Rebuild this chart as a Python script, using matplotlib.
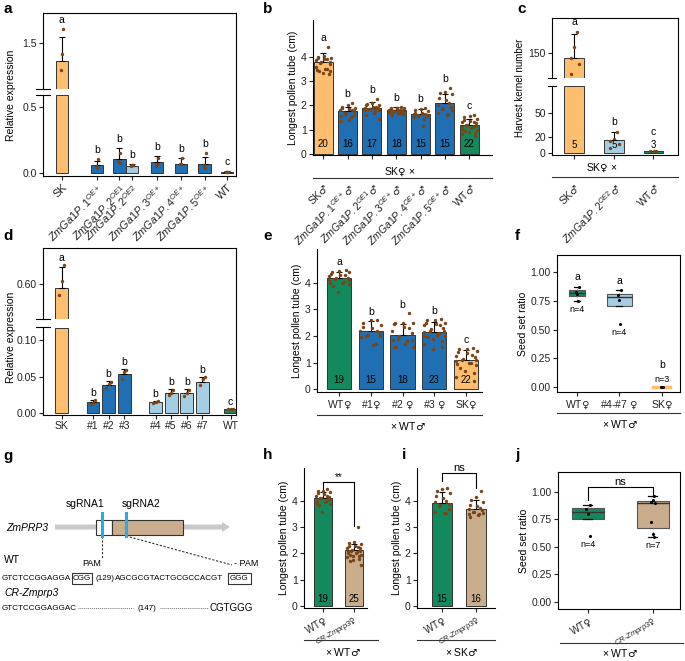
import numpy as np
import matplotlib
matplotlib.use('Agg')
import matplotlib.pyplot as plt
from matplotlib.lines import Line2D
from matplotlib.patches import Rectangle, Polygon

plt.rcParams['font.family'] = ['Liberation Sans', 'DejaVu Sans']
plt.rcParams['mathtext.fontset'] = 'custom'
plt.rcParams['mathtext.rm'] = 'Liberation Sans'
plt.rcParams['mathtext.it'] = 'Liberation Sans:italic'
plt.rcParams['mathtext.sf'] = 'DejaVu Sans'
plt.rcParams['mathtext.fallback'] = 'stixsans'
plt.rcParams['axes.linewidth'] = 0.8

ORANGE = '#fdbf6f'
BLUE = '#1f6fb2'
LBLUE = '#a6cee3'
GREEN = '#138a5e'
TAN = '#c9ad8c'
BROWN = '#7a4516'
EDGE = '#333333'

# gender signs drawn from DejaVu Sans (larger glyphs than Liberation)
FEM = r'$\mathsf{♀}$'
MAL = r'$\mathsf{♂}$'

# ---------------- data ----------------
# a: relative expression
a_labels = ['SK', r'$\mathit{ZmGa1P.1}^{\mathit{OE+}}$', r'$\mathit{ZmGa1P.2}^{\mathit{OE1}}$',
            r'$\mathit{ZmGa1P.2}^{\mathit{OE2}}$', r'$\mathit{ZmGa1P.3}^{\mathit{OE+}}$',
            r'$\mathit{ZmGa1P.4}^{\mathit{OE+}}$', r'$\mathit{ZmGa1P.5}^{\mathit{OE+}}$', 'WT']
a_mean = [1.28, 0.06, 0.105, 0.05, 0.085, 0.07, 0.065, 0.01]
a_err = [0.29, 0.03, 0.085, 0.015, 0.045, 0.04, 0.055, 0.003]
a_pts = [[1.66, 1.37, 1.18], [0.105, 0.04, 0.05], [0.15, 0.075, 0.09], [0.06, 0.06, 0.055],
         [0.11, 0.07, 0.05], [0.11, 0.07, 0.065], [0.15, 0.04, 0.06], [0.01, 0.01, 0.01]]
a_let = ['a', 'b', 'b', 'b', 'b', 'b', 'b', 'c']

# b: longest pollen tube, SK female x
b_labels = ['SK' + MAL, r'$\mathit{ZmGa1P.1}^{\mathit{OE+}}$' + MAL, r'$\mathit{ZmGa1P.2}^{\mathit{OE1}}$' + MAL,
            r'$\mathit{ZmGa1P.3}^{\mathit{OE+}}$' + MAL, r'$\mathit{ZmGa1P.4}^{\mathit{OE+}}$' + MAL,
            r'$\mathit{ZmGa1P.5}^{\mathit{OE+}}$' + MAL, 'WT' + MAL]
b_mean = [3.78, 1.75, 1.90, 1.80, 1.65, 2.10, 1.18]
b_err = [0.38, 0.19, 0.22, 0.12, 0.20, 0.35, 0.25]
b_pts = [
    [4.4, 4.05, 4.0, 3.95, 3.95, 3.9, 3.9, 3.85, 3.8, 3.8, 3.75, 3.7, 3.6, 3.5, 3.5, 3.45, 3.4, 3.4, 3.35, 3.3],
    [2.1, 2.0, 1.95, 1.9, 1.9, 1.85, 1.8, 1.8, 1.75, 1.7, 1.65, 1.6, 1.55, 1.5, 1.4, 1.35],
    [2.25, 2.1, 2.05, 2.0, 2.0, 1.95, 1.95, 1.9, 1.9, 1.85, 1.85, 1.8, 1.8, 1.75, 1.7, 1.6, 1.45],
    [1.95, 1.9, 1.9, 1.88, 1.85, 1.85, 1.82, 1.8, 1.8, 1.78, 1.75, 1.75, 1.72, 1.7, 1.7, 1.68, 1.65, 1.6],
    [1.9, 1.85, 1.8, 1.75, 1.7, 1.7, 1.65, 1.65, 1.6, 1.6, 1.55, 1.55, 1.5, 1.45, 1.15],
    [2.7, 2.55, 2.5, 2.45, 2.3, 2.2, 2.1, 2.0, 1.95, 1.9, 1.85, 1.8, 1.7, 1.65, 1.6],
    [1.6, 1.55, 1.5, 1.45, 1.4, 1.35, 1.3, 1.3, 1.25, 1.2, 1.2, 1.15, 1.1, 1.1, 1.05, 1.0, 1.0, 0.95, 0.9,
     0.85, 0.8, 0.75]]
b_let = ['a', 'b', 'b', 'b', 'b', 'b', 'c']

# c: harvest kernel number
c_labels = ['SK' + MAL, r'$\mathit{ZmGa1P.2}^{\mathit{OE2}}$' + MAL, 'WT' + MAL]
c_mean = [142, 17, 3]
c_err = [38, 9, 0.5]
c_pts = [[184, 160, 142, 132, 117], [26, 18, 15, 11, 7], [3.5, 3.5, 3.5]]
c_let = ['a', 'b', 'c']

# d: relative expression, knock-down lines
d_labels = ['SK', '#1', '#2', '#3', '#4', '#5', '#6', '#7', 'WT']
d_mean = [0.581, 0.015, 0.039, 0.054, 0.015, 0.027, 0.027, 0.043, 0.005]
d_err = [0.09, 0.003, 0.005, 0.007, 0.002, 0.006, 0.006, 0.007, 0.001]
d_pts = [[0.678, 0.61, 0.552], [0.018, 0.014, 0.013], [0.043, 0.040, 0.034], [0.059, 0.056, 0.046],
         [0.017, 0.015, 0.014], [0.032, 0.028, 0.025], [0.032, 0.028, 0.024], [0.050, 0.047, 0.039],
         [0.006, 0.006, 0.006]]
d_let = ['a', 'b', 'b', 'b', 'b', 'b', 'b', 'b', 'c']

# e: longest pollen tube x WT male
e_labels = ['WT' + FEM, '#1' + FEM, '#2 ' + FEM, '#3 ' + FEM, 'SK' + FEM]
e_mean = [4.17, 2.20, 2.05, 2.15, 1.08]
e_err = [0.23, 0.35, 0.42, 0.38, 0.40]
e_pts = [
    [4.5, 4.45, 4.4, 4.4, 4.35, 4.3, 4.3, 4.25, 4.2, 4.2, 4.15, 4.1, 4.1, 4.05, 4.0, 4.0, 3.95, 3.9, 3.65],
    [2.6, 2.6, 2.5, 2.4, 2.35, 2.3, 2.2, 2.2, 2.1, 2.05, 2.0, 2.0, 1.95, 1.7, 1.65],
    [2.85, 2.5, 2.5, 2.5, 2.45, 2.35, 2.3, 2.2, 2.1, 2.0, 1.9, 1.85, 1.85, 1.8, 1.7, 1.6, 1.6, 1.6],
    [2.65, 2.6, 2.6, 2.5, 2.5, 2.45, 2.4, 2.4, 2.3, 2.25, 2.2, 2.2, 2.15, 2.1, 2.05, 2.0, 2.0, 1.95, 1.9,
     1.8, 1.7, 1.6, 1.5],
    [1.55, 1.5, 1.5, 1.45, 1.4, 1.35, 1.3, 1.25, 1.2, 1.15, 1.1, 1.1, 1.05, 1.0, 1.0, 0.95, 0.9, 0.8, 0.7,
     0.6, 0.45, 0.3]]
e_let = ['a', 'b', 'b', 'b', 'c']

# f: seed set ratio
f_labels = ['WT' + FEM, '#4-#7 ' + FEM, 'SK' + FEM]
f_pts = [[0.75, 0.81, 0.83, 0.87], [0.55, 0.76, 0.80, 0.84], [0.0, 0.0, 0.0]]
f_let = ['a', 'a', 'b']

# h, i: longest pollen tube, CR-Zmprp3
hi_labels = ['WT' + FEM, r'$\mathit{CR}$-$\mathit{Zmprp3}$' + FEM]
h_mean = [4.12, 2.12]
h_err = [0.22, 0.25]
h_pts = [
    [4.45, 4.4, 4.4, 4.35, 4.3, 4.25, 4.2, 4.2, 4.15, 4.1, 4.1, 4.05, 4.0, 4.0, 3.95, 3.9, 3.9, 3.85, 3.6],
    [3.0, 2.45, 2.4, 2.35, 2.3, 2.3, 2.25, 2.2, 2.2, 2.15, 2.1, 2.1, 2.1, 2.05, 2.0, 2.0, 1.95, 1.95, 1.9,
     1.9, 1.85, 1.8, 1.75, 1.7, 1.55]]
i_mean = [3.93, 3.70]
i_err = [0.40, 0.35]
i_pts = [
    [4.5, 4.45, 4.4, 4.3, 4.2, 4.1, 4.0, 3.95, 3.9, 3.85, 3.8, 3.7, 3.6, 3.55, 3.55],
    [4.4, 4.15, 4.05, 3.95, 3.85, 3.8, 3.75, 3.7, 3.65, 3.6, 3.6, 3.55, 3.5, 3.5, 3.45, 3.4]]

# j: seed set ratio, CR-Zmprp3
j_pts = [[0.60, 0.80, 0.84, 0.88], [0.59, 0.62, 0.73, 0.90, 0.91, 0.93, 0.96]]

# ---------------- helpers ----------------
W, H = 685, 661
fig = plt.figure(figsize=(W / 100, H / 100), dpi=100)


def px_ax(l, t, r, b):
    return fig.add_axes([l / W, 1 - b / H, (r - l) / W, (b - t) / H])


def ftext(x, y, s, **kw):
    kw.setdefault('fontsize', 7.5)
    return fig.text(x / W, 1 - y / H, s, **kw)


def fline(x0, x1, y):
    fig.add_artist(Line2D([x0 / W, x1 / W], [1 - y / H, 1 - y / H], color=EDGE, lw=0.8))


def jitter(n, w):
    return w * np.sin(np.arange(n) * 2.39996 + 0.7)


def tidy(ax, box=False):
    ax.tick_params(labelsize=7.5, length=3, width=0.8, pad=1.5, colors='#222222')
    if not box:
        ax.spines['top'].set_visible(False)
        ax.spines['right'].set_visible(False)


def broken(frame_box, top_box, bot_box, xlim, top_ylim, bot_ylim):
    fr = px_ax(*frame_box)
    fr.set_xticks([])
    fr.set_yticks([])
    fr.patch.set_alpha(0)
    fr.spines['left'].set_visible(False)
    fr.spines['bottom'].set_visible(False)
    top = px_ax(*top_box)
    bot = px_ax(*bot_box)
    for ax in (top, bot):
        ax.patch.set_alpha(0)
        ax.set_xlim(xlim)
        tidy(ax)
    top.spines['bottom'].set_visible(False)
    top.set_xticks([])
    top.set_ylim(top_ylim)
    bot.set_ylim(bot_ylim)
    top.plot([-0.035, 0.035], [0, 0], transform=top.transAxes, clip_on=False, color='k', lw=0.8)
    bot.plot([-0.035, 0.035], [1, 1], transform=bot.transAxes, clip_on=False, color='k', lw=0.8)
    return top, bot


def draw_bars(axes, xs, means, errs, pts, colors, width, jw):
    xs = np.asarray(xs, float)
    means = np.asarray(means, float)
    for ax in axes:
        lo, hi = ax.get_ylim()
        for x, m, c in zip(xs, means, colors):
            if m <= lo:
                continue
            base = 0 if lo <= 0 else lo + 0.006 * (hi - lo)
            top = min(m, hi - 0.006 * (hi - lo))
            ax.bar(x, top - base, width, bottom=base, color=c, edgecolor=EDGE, lw=0.7, zorder=2)
        ax.errorbar(xs, means, yerr=[np.zeros(len(xs)), errs], fmt='none', ecolor='black',
                    elinewidth=0.8, capsize=2.5, capthick=0.8, zorder=3)
        for x, p in zip(xs, pts):
            ax.scatter(x + jitter(len(p), jw), p, s=6, color=BROWN, lw=0, zorder=4)


def put_letters(axes, xs, tops, labs, off_px, fs=7.5, floor=None):
    for x, t, s in zip(xs, tops, labs):
        if floor is not None:
            t = max(t, floor)
        ax = axes[0] if (len(axes) == 1 or t > axes[0].get_ylim()[0]) else axes[1]
        lo, hi = ax.get_ylim()
        hpx = ax.get_position().height * H
        ax.text(x, t + off_px * (hi - lo) / hpx, s, ha='center', va='bottom', fontsize=fs, zorder=5)


def tops_of(means, errs, pts):
    return [max(max(p), m + e) for m, e, p in zip(means, errs, pts)]


def n_labels(ax, xs, pts, y, fs=7):
    for x, p in zip(xs, pts):
        ax.text(x, y, str(len(p)), ha='center', va='center', fontsize=fs, zorder=5)


def rot_labels(ax, xs, labels, rot, pad, fs=7):
    ax.set_xticks(xs)
    ax.set_xticklabels(labels, rotation=rot, ha='right', va='top', rotation_mode='anchor', fontsize=fs)
    ax.tick_params(axis='x', pad=pad)


# ---------------- panel a ----------------
a_x = [0, 2.8, 4.6, 5.6, 7.6, 9.5, 11.4, 13.2]
a_col = [ORANGE, BLUE, BLUE, LBLUE, BLUE, BLUE, BLUE, GREEN]
ta, ba = broken((43, 13, 236, 176), (43, 13, 236, 89), (43, 95, 236, 176),
                (-1.5, 13.9), (0.95, 1.85), (-0.023, 0.59))
draw_bars((ta, ba), a_x, a_mean, a_err, a_pts, a_col, 1.0, 0.12)
ta.set_yticks([1.5])
ta.set_yticklabels(['1.5'])
ba.set_yticks([0, 0.5])
ba.set_yticklabels(['0.0', '0.5'])
rot_labels(ba, a_x, a_labels, 45, 1.5, fs=7.8)
put_letters((ta, ba), a_x, tops_of(a_mean, a_err, a_pts), a_let, 4)
ftext(11, 95, 'Relative expression', rotation=90, ha='center', va='center')

# ---------------- panel b ----------------
b_x = np.arange(len(b_mean))
b_col = [ORANGE] + [BLUE] * 5 + [GREEN]
axb = px_ax(313, 20, 492, 155)
tidy(axb)
axb.set_xlim(-0.42, 6.93)
axb.set_ylim(-0.05, 5.52)
draw_bars([axb], b_x, b_mean, b_err, b_pts, b_col, 0.78, 0.3)
axb.set_yticks([0, 1, 2, 3, 4])
axb.set_ylabel('Longest pollen tube (cm)', fontsize=7.5, labelpad=2)
rot_labels(axb, b_x, b_labels, 45, 16, fs=7.5)
put_letters([axb], b_x, tops_of(b_mean, b_err, b_pts), b_let, 4)
n_labels(axb, b_x, b_pts, 0.42)
ftext(400, 172, 'SK' + FEM + ' ×', ha='center', va='center')
fline(313, 492, 178)

# ---------------- panel c ----------------
c_x = np.arange(3)
c_col = [ORANGE, LBLUE, GREEN]
tc, bc = broken((552, 18, 678, 155), (552, 18, 678, 78), (552, 86, 678, 155),
                (-0.56, 2.62), (110, 206), (-2, 83))
draw_bars((tc, bc), c_x, c_mean, c_err, c_pts, c_col, 0.5, 0.12)
tc.set_yticks([150])
bc.set_yticks([0, 20, 50])
rot_labels(bc, c_x, c_labels, 45, 16, fs=7.5)
put_letters((tc, bc), c_x, tops_of(c_mean, c_err, c_pts), c_let, 5, floor=14)
n_labels(bc, c_x, c_pts, 10)
ftext(520, 88, 'Harvest kernel number', rotation=90, ha='center', va='center', fontsize=7)
ftext(602, 168, 'SK' + FEM + ' ×', ha='center', va='center')
fline(552, 678, 177)

# ---------------- panel d ----------------
d_x = [0, 2, 3, 4, 6, 7, 8, 9, 10.8]
d_col = [ORANGE, BLUE, BLUE, BLUE, LBLUE, LBLUE, LBLUE, LBLUE, GREEN]
td, bd = broken((43, 248, 236, 415), (43, 248, 236, 319), (43, 327, 236, 415),
                (-1.2, 11.15), (0.45, 0.75), (-0.0027, 0.118))
draw_bars((td, bd), d_x, d_mean, d_err, d_pts, d_col, 0.82, 0.22)
td.set_yticks([0.6])
td.set_yticklabels(['0.60'])
bd.set_yticks([0, 0.05, 0.10])
bd.set_yticklabels(['0.00', '0.05', '0.10'])
bd.set_xticks(d_x)
bd.set_xticklabels(d_labels, fontsize=7.5)
put_letters((td, bd), d_x, tops_of(d_mean, d_err, d_pts), d_let, 2)
ftext(11, 337, 'Relative expression', rotation=90, ha='center', va='center')

# ---------------- panel e ----------------
e_x = np.arange(len(e_mean))
e_col = [GREEN, BLUE, BLUE, BLUE, ORANGE]
axe = px_ax(317, 249, 482, 392)
tidy(axe)
axe.set_xlim(-0.69, 4.5)
axe.set_ylim(-0.11, 5.28)
draw_bars([axe], e_x, e_mean, e_err, e_pts, e_col, 0.76, 0.33)
axe.set_yticks([0, 1, 2, 3, 4])
axe.set_xticks(e_x)
axe.set_xticklabels(e_labels, fontsize=7.5)
axe.set_ylabel('Longest pollen tube (cm)', fontsize=7.5, labelpad=2)
put_letters([axe], e_x, tops_of(e_mean, e_err, e_pts), e_let, 3)
n_labels(axe, e_x, e_pts, 0.35)
fline(317, 482, 415)
ftext(408, 426, '× WT' + MAL, ha='center', va='center')


# ---------------- box plots ----------------
def boxes(ax, xs, pts, colors, widths):
    bp = ax.boxplot(pts, positions=xs, widths=widths, patch_artist=True, showfliers=False,
                    capwidths=0.14, manage_ticks=False,
                    medianprops=dict(color='#333333', lw=1.0),
                    boxprops=dict(edgecolor='#555555', lw=0.8),
                    whiskerprops=dict(color='#9a9a9a', ls=':', lw=0.9),
                    capprops=dict(color='black', lw=0.9))
    for patch, c in zip(bp['boxes'], colors):
        patch.set_facecolor(c)
    for x, p in zip(xs, pts):
        ax.scatter(x + jitter(len(p), 0.04), p, s=5, color='black', lw=0, zorder=4)


def bracket(ax, x0, x1, y0, y1, yb, label, fs=8):
    ax.plot([x0, x0, x1, x1], [y0, yb, yb, y1], color='black', lw=0.8, clip_on=False)
    ax.text((x0 + x1) / 2, yb, label, ha='center', va='bottom', fontsize=fs, clip_on=False)


# ---------------- panel f ----------------
f_x = [0, 1, 2]
axf = px_ax(557, 255, 680, 392)
tidy(axf, box=True)
axf.set_xlim(-0.47, 2.43)
axf.set_ylim(-0.043, 1.148)
boxes(axf, f_x, f_pts, [GREEN, LBLUE, ORANGE], [0.38, 0.58, 0.4])
axf.plot([1.8, 2.2], [0, 0], color=ORANGE, lw=2.5, zorder=3)
axf.set_yticks([0, 0.25, 0.5, 0.75, 1.0])
axf.set_yticklabels(['0.00', '0.25', '0.50', '0.75', '1.00'])
axf.set_xticks(f_x)
axf.set_xticklabels(f_labels, fontsize=7.5)
axf.set_ylabel('Seed set ratio', fontsize=7.5, labelpad=2)
for x, p, s in zip(f_x, f_pts, f_let):
    lo = min(p)
    if max(p) > 0:
        axf.text(x, lo - 0.04, 'n=%d' % len(p), ha='center', va='top', fontsize=6.5)
        axf.text(x, max(p) + 0.04, s, ha='center', va='bottom', fontsize=7.5)
    else:
        axf.text(x, 0.03, 'n=%d' % len(p), ha='center', va='bottom', fontsize=6.5)
        axf.text(x, 0.15, s, ha='center', va='bottom', fontsize=7.5)
fline(557, 680, 413)
ftext(620, 424, '× WT' + MAL, ha='center', va='center')

# ---------------- panel g ----------------
gax = px_ax(0, 455, 262, 625)
gax.set_xlim(0, 262)
gax.set_ylim(625, 455)
gax.axis('off')
gax.add_patch(Polygon([(55, 524.5), (222, 524.5), (222, 522), (230, 527), (222, 532), (222, 529.5), (55, 529.5)],
                      closed=True, color='#c8c8c8', lw=0))
gax.add_patch(Rectangle((96, 520), 16, 15, facecolor='white', edgecolor=EDGE, lw=0.8, zorder=2))
gax.add_patch(Rectangle((112, 520), 71, 15, facecolor=TAN, edgecolor=EDGE, lw=0.8, zorder=2))
for xb in (102, 126):
    gax.plot([xb, xb], [513, 536], color='#29abe2', lw=2.2, zorder=3)
gax.text(6, 528, 'ZmPRP3', fontstyle='italic', fontsize=7.5, ha='left', va='center')
gax.text(85, 504, 'sgRNA1', fontsize=7.5, ha='center', va='center')
gax.text(141, 504, 'sgRNA2', fontsize=7.5, ha='center', va='center')
gax.plot([102, 102], [536, 559], color=EDGE, lw=0.8, ls=(0, (2, 1.5)))
gax.plot([126, 232], [536, 565], color=EDGE, lw=0.8, ls=(0, (2, 1.5)))
gax.text(4, 560, 'WT', fontsize=7.5, ha='left', va='center')
gax.text(92, 564, 'PAM', fontsize=6.5, ha='center', va='center')
gax.text(234, 564, '- PAM', fontsize=6.5, ha='left', va='center')
sq = 5.8
gax.text(2, 578, 'GTCTCCGGAGGA', fontsize=sq, ha='left', va='center')
gax.text(82, 578, 'CGG', fontsize=sq, ha='center', va='center')
gax.add_patch(Rectangle((72, 572.5), 20, 11.5, fill=False, edgecolor=EDGE, lw=0.8))
gax.text(95, 578, '(129)', fontsize=sq, ha='left', va='center')
gax.text(115, 578, 'AGCGCGTACTGCGCCACGT', fontsize=sq, ha='left', va='center')
gax.text(239.5, 578, 'GGG', fontsize=sq, ha='center', va='center')
gax.add_patch(Rectangle((228, 572.5), 23, 11.5, fill=False, edgecolor=EDGE, lw=0.8))
gax.text(4, 593, 'CR-Zmprp3', fontstyle='italic', fontsize=7.5, ha='left', va='center')
gax.text(2, 608, 'GTCTCCGGAGGAC', fontsize=sq, ha='left', va='center')
gax.plot([78, 133], [608, 608], color='#777777', lw=0.7, ls=(0, (1, 1)))
gax.text(147, 608, '(147)', fontsize=sq, ha='center', va='center')
gax.plot([160, 208], [608, 608], color='#777777', lw=0.7, ls=(0, (1, 1)))
gax.text(210, 608, 'CGTGGG', fontsize=7, ha='left', va='center')

# ---------------- panels h, i ----------------
hi_x = np.arange(2)
for box, mean, err, pts, xl, sign, yb, legs, under in [
        ((304, 468, 367, 608), h_mean, h_err, h_pts, (-0.61, 1.42), '**', 4.73, (4.45, 3.05),
         (304, 378, 343, '× WT' + MAL)),
        ((417, 468, 495, 608), i_mean, i_err, i_pts, (-0.74, 1.56), 'ns', 5.08, (4.75, 4.5),
         (417, 495, 462, '× SK' + MAL))]:
    ax = px_ax(*box)
    tidy(ax)
    ax.set_xlim(xl)
    ax.set_ylim(-0.08, 5.26)
    draw_bars([ax], hi_x, mean, err, pts, [GREEN, TAN], 0.58, 0.22)
    ax.set_yticks([0, 1, 2, 3, 4])
    ax.set_ylabel('Longest pollen tube (cm)', fontsize=7.5, labelpad=2)
    rot_labels(ax, hi_x, hi_labels, 30, 1.5)
    ax.get_xticklabels()[1].set_fontsize(5.5)
    n_labels(ax, hi_x, pts, 0.27)
    bracket(ax, 0, 1, legs[0], legs[1], yb, sign, fs=8 if sign == 'ns' else 7)
    fline(under[0], under[1], 640)
    ftext(under[2], 652, under[3], ha='center', va='center')

# ---------------- panel j ----------------
j_x = [0, 1]
axj = px_ax(558, 472, 680, 609)
tidy(axj, box=True)
axj.set_xlim(-0.46, 1.42)
axj.set_ylim(-0.064, 1.18)
boxes(axj, j_x, j_pts, [GREEN, TAN], [0.49, 0.49])
axj.set_yticks([0, 0.25, 0.5, 0.75, 1.0])
axj.set_yticklabels(['0.00', '0.25', '0.50', '0.75', '1.00'])
axj.set_ylabel('Seed set ratio', fontsize=7.5, labelpad=2)
rot_labels(axj, j_x, hi_labels, 30, 1.5)
axj.get_xticklabels()[1].set_fontsize(5.5)
for x, p in zip(j_x, j_pts):
    axj.text(x, min(p) - 0.04, 'n=%d' % len(p), ha='center', va='top', fontsize=6.5)
bracket(axj, 0, 1, 0.93, 0.97, 1.045, 'ns', fs=8)
fline(560, 683, 643)
ftext(620, 653, '× WT' + MAL, ha='center', va='center')

# ---------------- panel letters ----------------
for s, x, y in [('a', 3, 2), ('b', 263, 2), ('c', 517, 2), ('d', 3, 229), ('e', 263, 229), ('f', 515, 229),
                ('g', 3, 449), ('h', 263, 448), ('i', 402, 448), ('j', 515, 448)]:
    ftext(x, y, s, fontsize=11, fontweight='bold', ha='left', va='top')

fig.savefig('out.png', dpi=100)
